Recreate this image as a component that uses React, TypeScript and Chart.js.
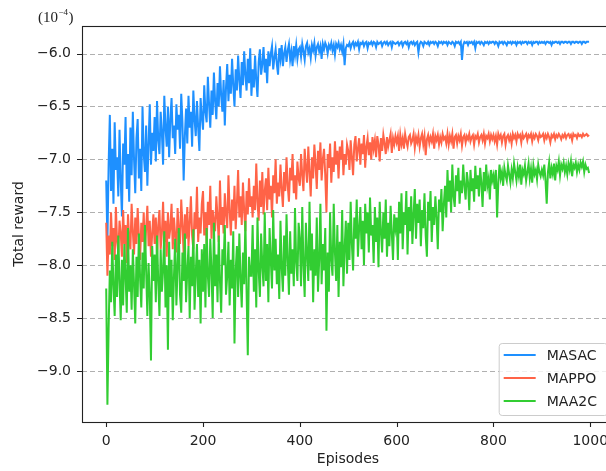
import React, { useEffect, useRef } from "react";
import { Chart, registerables } from "chart.js";

Chart.register(...registerables);

// Episodes (x categories), every 2.5 episodes
const episodes: number[] = Array.from({ length: 400 }, (_, i) => i * 2.5);

const xTicks = [0, 200, 400, 600, 800, 1000];
const yTicks = [-9.0, -8.5, -8.0, -7.5, -7.0, -6.5, -6.0];

const seriesNames = ["MASAC", "MAPPO", "MAA2C"];
const seriesColors = ["#1E90FF", "#FF6347", "#32CD32"];

const masac: number[] = [
  -7.20, -7.78, -7.05, -6.58, -7.30, -6.90, -7.42, -6.65, -7.10, -6.98,
  -7.35, -6.72, -7.20, -7.54, -6.85, -7.05, -6.60, -7.28, -6.95, -7.40,
  -6.70, -7.15, -6.55, -7.00, -7.32, -6.80, -6.62, -7.18, -6.90, -7.30,
  -6.50, -6.95, -7.12, -6.68, -7.25, -6.85, -6.48, -7.05, -6.75, -6.92,
  -6.60, -7.02, -6.45, -6.82, -6.95, -6.55, -6.75, -7.05, -6.40, -6.70,
  -6.88, -6.50, -6.98, -6.62, -6.42, -6.80, -6.68, -6.95, -6.48, -6.72,
  -6.58, -6.90, -6.38, -6.65, -7.20, -6.78, -6.52, -6.85, -6.40, -6.70,
  -6.55, -6.88, -6.35, -6.62, -6.78, -6.45, -6.70, -6.92, -6.42, -6.60,
  -6.72, -6.30, -6.55, -6.65, -6.22, -6.48, -6.70, -6.35, -6.58, -6.18,
  -6.45, -6.62, -6.28, -6.50, -6.12, -6.40, -6.55, -6.25, -6.68, -6.32,
  -6.10, -6.45, -6.20, -6.38, -6.05, -6.30, -6.50, -6.15, -6.35, -6.02,
  -6.25, -6.42, -6.08, -6.30, -5.98, -6.20, -6.35, -6.05, -6.28, -5.95,
  -6.40, -6.15, -6.32, -6.02, -6.25, -6.41, -6.08, -5.96, -6.20, -6.10,
  -5.94, -6.18, -6.05, -6.28, -5.98, -6.12, -6.00, -5.93, -6.15, -6.04,
  -5.96, -6.10, -6.20, -5.95, -6.05, -5.92, -6.12, -6.00, -5.94, -6.08,
  -5.97, -5.91, -6.06, -5.98, -6.12, -5.93, -6.02, -5.92, -6.05, -5.96,
  -5.94, -6.03, -5.91, -5.98, -6.06, -5.93, -5.90, -5.99, -5.95, -6.04,
  -5.92, -5.97, -5.90, -6.02, -5.94, -5.91, -5.98, -5.93, -6.05, -5.91,
  -5.96, -5.90, -5.93, -6.00, -5.92, -5.95, -5.90, -5.97, -5.92, -6.01,
  -5.91, -5.94, -5.90, -5.96, -5.92, -5.98, -5.91, -6.11, -5.95, -5.92,
  -5.93, -5.90, -5.95, -5.91, -5.89, -5.94, -5.90, -5.92, -5.89, -5.96,
  -5.90, -5.91, -5.89, -5.93, -5.90, -5.89, -5.95, -5.90, -5.91, -5.89,
  -5.92, -5.89, -5.90, -5.94, -5.89, -5.91, -5.90, -5.89, -5.93, -5.90,
  -5.89, -5.91, -5.89, -5.92, -5.90, -5.89, -5.94, -5.89, -5.90, -5.91,
  -5.90, -5.89, -5.92, -5.90, -5.89, -5.93, -5.90, -5.89, -5.91, -5.89,
  -5.94, -5.90, -5.89, -5.91, -5.89, -5.92, -5.90, -5.89, -5.99, -5.91,
  -5.89, -5.90, -5.93, -5.89, -5.90, -5.91, -5.89, -5.92, -5.89, -5.90,
  -5.89, -5.91, -5.89, -5.90, -5.93, -5.89, -5.90, -5.89, -5.91, -5.89,
  -5.90, -5.89, -5.92, -5.89, -5.90, -5.91, -5.89, -5.90, -5.93, -5.89,
  -5.90, -5.89, -5.91, -5.89, -6.06, -5.92, -5.89, -5.90, -5.89, -5.92,
  -5.89, -5.90, -5.89, -5.91, -5.89, -5.95, -5.89, -5.90, -5.89, -5.91,
  -5.89, -5.90, -5.92, -5.89, -5.90, -5.89, -5.91, -5.89, -5.90, -5.89,
  -5.89, -5.91, -5.89, -5.90, -5.93, -5.89, -5.90, -5.89, -5.91, -5.89,
  -5.90, -5.92, -5.89, -5.90, -5.89, -5.91, -5.89, -5.90, -5.89, -5.92,
  -5.89, -5.90, -5.89, -5.91, -5.89, -5.90, -5.89, -5.89, -5.91, -5.89,
  -5.90, -5.89, -5.92, -5.89, -5.90, -5.89, -5.89, -5.91, -5.89, -5.90,
  -5.89, -5.90, -5.89, -5.91, -5.89, -5.89, -5.90, -5.89, -5.92, -5.89,
  -5.90, -5.89, -5.89, -5.90, -5.89, -5.91, -5.89, -5.89, -5.90, -5.89,
  -5.89, -5.90, -5.89, -5.89, -5.91, -5.89, -5.89, -5.90, -5.89, -5.89,
  -5.90, -5.89, -5.89, -5.91, -5.89, -5.89, -5.90, -5.89, -5.89, -5.89,
];

const mappo: number[] = [
  -7.60, -8.10, -7.72, -7.90, -7.50, -7.82, -7.65, -7.95, -7.45, -7.78,
  -7.88, -7.58, -7.70, -7.92, -7.48, -7.80, -7.62, -7.98, -7.52, -7.75,
  -7.85, -7.42, -7.68, -7.90, -7.55, -7.80, -7.46, -7.72, -7.95, -7.60,
  -7.78, -7.50, -7.88, -7.65, -7.44, -7.82, -7.58, -7.92, -7.70, -7.52,
  -7.80, -7.55, -7.90, -7.62, -7.48, -7.85, -7.70, -7.40, -7.78, -7.58,
  -7.92, -7.50, -7.75, -7.65, -7.42, -7.85, -7.55, -7.72, -7.88, -7.46,
  -7.68, -7.80, -7.38, -7.62, -7.90, -7.52, -7.75, -7.45, -7.82, -7.60,
  -7.35, -7.72, -7.85, -7.50, -7.66, -7.26, -7.78, -7.55, -7.70, -7.42,
  -7.30, -7.72, -7.50, -7.80, -7.40, -7.62, -7.25, -7.75, -7.48, -7.58,
  -7.68, -7.35, -7.55, -7.78, -7.20, -7.62, -7.45, -7.70, -7.32, -7.52,
  -7.65, -7.15, -7.48, -7.72, -7.38, -7.58, -7.25, -7.66, -7.42, -7.10,
  -7.55, -7.35, -7.62, -7.22, -7.48, -7.68, -7.30, -7.52, -7.18, -7.45,
  -7.35, -7.55, -7.25, -7.48, -7.04, -7.40, -7.58, -7.20, -7.45, -7.12,
  -7.52, -7.30, -7.18, -7.48, -7.08, -7.38, -7.25, -7.55, -7.15, -7.32,
  -7.00, -7.42, -7.22, -7.35, -7.05, -7.28, -7.45, -7.12, -7.30, -6.98,
  -7.25, -7.40, -7.08, -7.20, -6.95, -7.32, -7.15, -7.38, -7.02, -7.18,
  -7.25, -6.95, -7.15, -7.30, -6.90, -7.08, -7.22, -6.88, -7.12, -7.35,
  -6.98, -7.18, -6.86, -7.05, -7.28, -6.92, -7.10, -6.84, -7.20, -7.00,
  -6.90, -7.15, -7.50, -6.95, -7.08, -6.85, -7.22, -6.98, -7.12, -6.83,
  -7.05, -6.92, -7.18, -6.88, -7.00, -6.82, -7.15, -6.95, -7.05, -6.86,
  -6.92, -7.10, -6.82, -6.98, -7.15, -6.86, -6.78, -7.02, -6.90, -6.80,
  -7.05, -6.85, -6.95, -6.77, -7.08, -6.88, -6.80, -6.96, -6.84, -7.00,
  -6.79, -6.90, -6.82, -6.98, -6.78, -6.86, -7.02, -6.80, -6.92, -6.77,
  -6.85, -6.95, -6.79, -6.88, -6.82, -6.76, -6.94, -6.80, -6.86, -6.78,
  -6.84, -6.78, -6.92, -6.77, -6.86, -6.80, -6.90, -6.76, -6.83, -6.88,
  -6.79, -6.77, -6.85, -6.82, -6.76, -6.89, -6.79, -6.84, -6.77, -6.88,
  -6.80, -6.76, -6.86, -6.78, -6.96, -6.81, -6.77, -6.85, -6.79, -6.83,
  -6.76, -6.90, -6.78, -6.82, -6.77, -6.86, -6.79, -6.84, -6.76, -6.81,
  -6.79, -6.85, -6.76, -6.86, -6.78, -6.83, -6.76, -6.90, -6.79, -6.77,
  -6.85, -6.78, -6.82, -6.76, -6.87, -6.79, -6.77, -6.84, -6.78, -6.81,
  -6.76, -6.83, -6.79, -6.77, -6.86, -6.78, -6.80, -6.76, -6.84, -6.79,
  -6.77, -6.82, -6.76, -6.85, -6.78, -6.80, -6.76, -6.83, -6.77, -6.81,
  -6.77, -6.83, -6.78, -6.86, -6.76, -6.80, -6.77, -6.84, -6.78, -6.76,
  -6.86, -6.79, -6.77, -6.82, -6.78, -6.85, -6.76, -6.80, -6.77, -6.83,
  -6.76, -6.79, -6.77, -6.84, -6.76, -6.80, -6.78, -6.76, -6.82, -6.77,
  -6.79, -6.76, -6.83, -6.77, -6.80, -6.76, -6.78, -6.82, -6.76, -6.79,
  -6.78, -6.76, -6.82, -6.77, -6.80, -6.76, -6.79, -6.84, -6.77, -6.79,
  -6.76, -6.81, -6.77, -6.79, -6.76, -6.78, -6.81, -6.77, -6.79, -6.76,
  -6.80, -6.77, -6.76, -6.79, -6.77, -6.82, -6.76, -6.78, -6.77, -6.80,
  -6.76, -6.78, -6.77, -6.79, -6.76, -6.78, -6.77, -6.76, -6.78, -6.77,
];

const maa2c: number[] = [
  -8.22, -9.32, -8.60, -8.05, -8.35, -7.78, -8.20, -8.48, -7.90, -8.30,
  -7.72, -8.15, -8.52, -7.95, -8.38, -7.80, -8.10, -8.45, -7.65, -8.25,
  -8.00, -8.42, -7.85, -8.18, -8.55, -7.92, -8.30, -7.70, -8.12, -8.40,
  -7.88, -8.22, -7.62, -8.05, -8.48, -7.98, -8.28, -8.90, -7.82, -8.15,
  -7.90, -8.35, -7.72, -8.15, -8.48, -7.85, -8.25, -8.05, -7.68, -8.40,
  -8.00, -8.80, -7.78, -8.30, -7.95, -8.52, -8.10, -7.75, -8.38, -8.02,
  -7.65, -8.28, -8.45, -7.88, -8.15, -7.70, -8.35, -8.05, -7.82, -8.50,
  -7.92, -8.20, -7.66, -8.42, -8.08, -7.80, -8.30, -7.95, -8.55, -7.85,
  -8.25, -7.80, -8.40, -7.65, -8.10, -8.30, -7.75, -8.05, -8.50, -7.60,
  -8.20, -7.90, -8.35, -7.72, -8.15, -8.45, -7.85, -8.00, -7.62, -8.28,
  -8.10, -7.78, -8.38, -7.95, -8.22, -7.68, -8.74, -8.05, -7.82, -8.30,
  -7.70, -8.12, -8.40, -7.88, -8.18, -7.58, -8.25, -8.85, -7.92, -8.10,
  -8.10, -7.62, -8.25, -7.85, -8.40, -7.55, -8.05, -8.30, -7.70, -8.00,
  -8.20, -7.50, -8.15, -7.80, -8.35, -7.65, -7.95, -8.22, -7.48, -8.05,
  -7.75, -8.18, -7.90, -8.32, -7.58, -8.02, -8.25, -7.72, -8.10, -7.52,
  -7.95, -8.28, -7.68, -8.08, -7.85, -8.20, -7.46, -7.98, -8.15, -7.60,
  -7.75, -8.20, -7.45, -8.00, -8.30, -7.60, -7.90, -8.15, -7.40, -8.05,
  -7.70, -8.35, -7.85, -8.10, -7.55, -8.25, -7.95, -7.42, -8.18, -7.80,
  -8.05, -7.65, -8.62, -7.88, -8.25, -7.50, -7.95, -8.10, -7.42, -7.88,
  -8.15, -7.62, -8.30, -7.78, -8.02, -7.48, -8.20, -7.85, -7.58, -8.08,
  -7.60, -7.95, -7.40, -7.80, -8.05, -7.55, -7.75, -7.38, -7.92, -7.65,
  -7.45, -7.85, -7.58, -8.00, -7.42, -7.70, -7.50, -7.88, -7.36, -7.72,
  -7.62, -7.98, -7.45, -7.78, -7.55, -8.02, -7.40, -7.68, -7.88, -7.50,
  -7.75, -7.38, -7.92, -7.60, -7.82, -7.44, -7.70, -7.95, -7.52, -7.65,
  -7.55, -7.95, -7.40, -7.70, -7.32, -7.85, -7.50, -7.62, -7.30, -7.90,
  -7.45, -7.68, -7.35, -7.80, -7.52, -7.28, -7.75, -7.42, -7.60, -7.38,
  -7.82, -7.48, -7.65, -7.32, -7.72, -7.92, -7.40, -7.58, -7.30, -7.78,
  -7.45, -7.62, -7.35, -7.55, -7.85, -7.38, -7.50, -7.28, -7.68, -7.42,
  -7.25, -7.55, -7.10, -7.40, -7.20, -7.50, -7.05, -7.35, -7.45, -7.15,
  -7.30, -7.08, -7.42, -7.20, -7.32, -7.05, -7.25, -7.38, -7.12, -7.22,
  -7.48, -7.10, -7.30, -7.18, -7.40, -7.06, -7.28, -7.15, -7.35, -7.08,
  -7.22, -7.45, -7.12, -7.30, -7.05, -7.25, -7.18, -7.38, -7.10, -7.20,
  -7.15, -7.28, -7.10, -7.55, -7.22, -7.05, -7.18, -7.12, -7.25, -7.08,
  -7.15, -7.20, -7.06, -7.14, -7.22, -7.10, -7.18, -7.04, -7.12, -7.20,
  -7.08, -7.16, -7.05, -7.24, -7.10, -7.14, -7.06, -7.20, -7.12, -7.04,
  -7.18, -7.09, -7.22, -7.06, -7.14, -7.10, -7.19, -7.05, -7.12, -7.16,
  -7.10, -7.15, -7.05, -7.20, -7.42, -7.12, -7.03, -7.18, -7.08, -7.14,
  -7.04, -7.20, -7.06, -7.10, -7.02, -7.15, -7.05, -7.09, -7.03, -7.12,
  -7.06, -7.14, -7.04, -7.10, -7.02, -7.16, -7.05, -7.08, -7.03, -7.12,
  -7.05, -7.10, -7.03, -7.07, -7.02, -7.12, -7.05, -7.09, -7.08, -7.13,
];

const seriesValues = [masac, mappo, maa2c];

const FONT = '"DejaVu Sans", sans-serif';

const decorPlugin = {
  id: "decor",
  beforeDatasetsDraw(chart: any) {
    const { ctx, chartArea: a, scales } = chart;
    const ys = scales.y;
    ctx.save();
    ctx.strokeStyle = "#b0b0b0";
    ctx.lineWidth = 1;
    ctx.setLineDash([5, 3]);
    ctx.beginPath();
    yTicks.forEach((v) => {
      const y = Math.round(ys.getPixelForValue(v)) + 0.5;
      ctx.moveTo(a.left, y);
      ctx.lineTo(a.right, y);
    });
    ctx.stroke();
    ctx.restore();
  },
  afterDraw(chart: any) {
    const { ctx, chartArea: a, scales } = chart;
    const xs = scales.x;
    const ys = scales.y;
    ctx.save();
    // tick marks
    ctx.strokeStyle = "#222";
    ctx.lineWidth = 1.1;
    ctx.setLineDash([]);
    ctx.beginPath();
    yTicks.forEach((v) => {
      const y = Math.round(ys.getPixelForValue(v)) + 0.5;
      ctx.moveTo(a.left - 5, y);
      ctx.lineTo(a.left, y);
    });
    xTicks.forEach((v) => {
      const x = Math.round(xs.getPixelForValue(v)) + 0.5;
      ctx.moveTo(x, a.bottom);
      ctx.lineTo(x, a.bottom + 5);
    });
    ctx.stroke();
    // frame
    ctx.strokeRect(
      Math.round(a.left) + 0.5,
      Math.round(a.top) + 0.5,
      Math.round(a.right - a.left),
      Math.round(a.bottom - a.top)
    );

    // legend
    ctx.font = `14px ${FONT}`;
    const labels = chart.data.datasets.map((d: any) => d.label);
    const tw = Math.max(...labels.map((l: string) => ctx.measureText(l).width));
    const w = 48 + tw + 10;
    const h = 72;
    const x0 = a.right - 7 - w;
    const y0 = a.bottom - 7 - h;
    ctx.beginPath();
    ctx.roundRect(x0 + 0.5, y0 + 0.5, w, h, 3);
    ctx.fillStyle = "rgba(255,255,255,0.8)";
    ctx.fill();
    ctx.strokeStyle = "#cccccc";
    ctx.lineWidth = 1;
    ctx.stroke();
    chart.data.datasets.forEach((d: any, i: number) => {
      const y = y0 + 12 + i * 23;
      ctx.strokeStyle = d.borderColor;
      ctx.lineWidth = 2;
      ctx.beginPath();
      ctx.moveTo(x0 + 5, y);
      ctx.lineTo(x0 + 37, y);
      ctx.stroke();
      ctx.fillStyle = "#222";
      ctx.textAlign = "left";
      ctx.textBaseline = "middle";
      ctx.fillText(d.label, x0 + 48, y + 1);
    });

    // exponent label (10^-4)
    ctx.fillStyle = "#222";
    ctx.textBaseline = "alphabetic";
    ctx.textAlign = "left";
    ctx.font = '15px "Liberation Serif", serif';
    const base = "(10";
    ctx.fillText(base, 38, 22);
    let x = 38 + ctx.measureText(base).width;
    ctx.font = '9px "Liberation Serif", serif';
    ctx.fillText("\u2212" + "4", x + 0.5, 15);
    x += ctx.measureText("\u22124").width + 1;
    ctx.font = '15px "Liberation Serif", serif';
    ctx.fillText(")", x, 22);
    ctx.restore();
  },
};

export default function App() {
  const ref = useRef<HTMLCanvasElement>(null);
  useEffect(() => {
    const canvas = ref.current;
    if (!canvas) return;
    const chart = new Chart(canvas, {
      type: "line",
      data: {
        datasets: seriesNames.map((name, k) => ({
          label: name,
          data: episodes.map((e, i) => ({ x: e, y: seriesValues[k][i] })),
          borderColor: seriesColors[k],
          backgroundColor: seriesColors[k],
          borderWidth: 2,
          pointRadius: 0,
          tension: 0,
          fill: false,
          order: 3 - k,
        })),
      },
      options: {
        responsive: false,
        animation: false,
        devicePixelRatio: 1,
        layout: { padding: { top: 26, right: 6, bottom: 0, left: 0 } },
        plugins: {
          legend: { display: false },
          tooltip: { enabled: false },
        },
        scales: {
          x: {
            type: "linear",
            min: -50,
            max: 1049,
            grid: { display: false, drawTicks: false },
            border: { display: false },
            afterBuildTicks: (s: any) => {
              s.ticks = xTicks.map((v) => ({ value: v }));
            },
            afterFit: (s: any) => {
              s.height = 49;
            },
            ticks: {
              autoSkip: false,
              maxRotation: 0,
              padding: 11,
              color: "#222",
              font: { family: FONT, size: 14 },
              callback: (v: any) => String(v),
            },
            title: {
              display: true,
              text: "Episodes",
              color: "#222",
              font: { family: FONT, size: 14 },
              padding: { top: 0, bottom: 3 },
            },
          },
          y: {
            type: "linear",
            min: -9.482,
            max: -5.74,
            grid: { display: false, drawTicks: false },
            border: { display: false },
            afterBuildTicks: (s: any) => {
              s.ticks = yTicks.map((v) => ({ value: v }));
            },
            afterFit: (s: any) => {
              s.width = 82;
            },
            ticks: {
              autoSkip: false,
              padding: 11,
              color: "#222",
              font: { family: FONT, size: 14 },
              callback: (v: any) => Number(v).toFixed(1).replace("-", "\u2212"),
            },
            title: {
              display: true,
              text: "Total reward",
              color: "#222",
              font: { family: FONT, size: 14 },
              padding: { top: 11, bottom: 0 },
            },
          },
        },
      },
      plugins: [decorPlugin],
    } as any);
    return () => chart.destroy();
  }, []);
  return (
    <div
      style={{
        position: "fixed",
        left: 0,
        top: 0,
        width: 606,
        height: 471,
        overflow: "hidden",
        background: "#fff",
      }}
    >
      <canvas ref={ref} width={620} height={471} style={{ display: "block", width: 620, height: 471 }} />
    </div>
  );
}
